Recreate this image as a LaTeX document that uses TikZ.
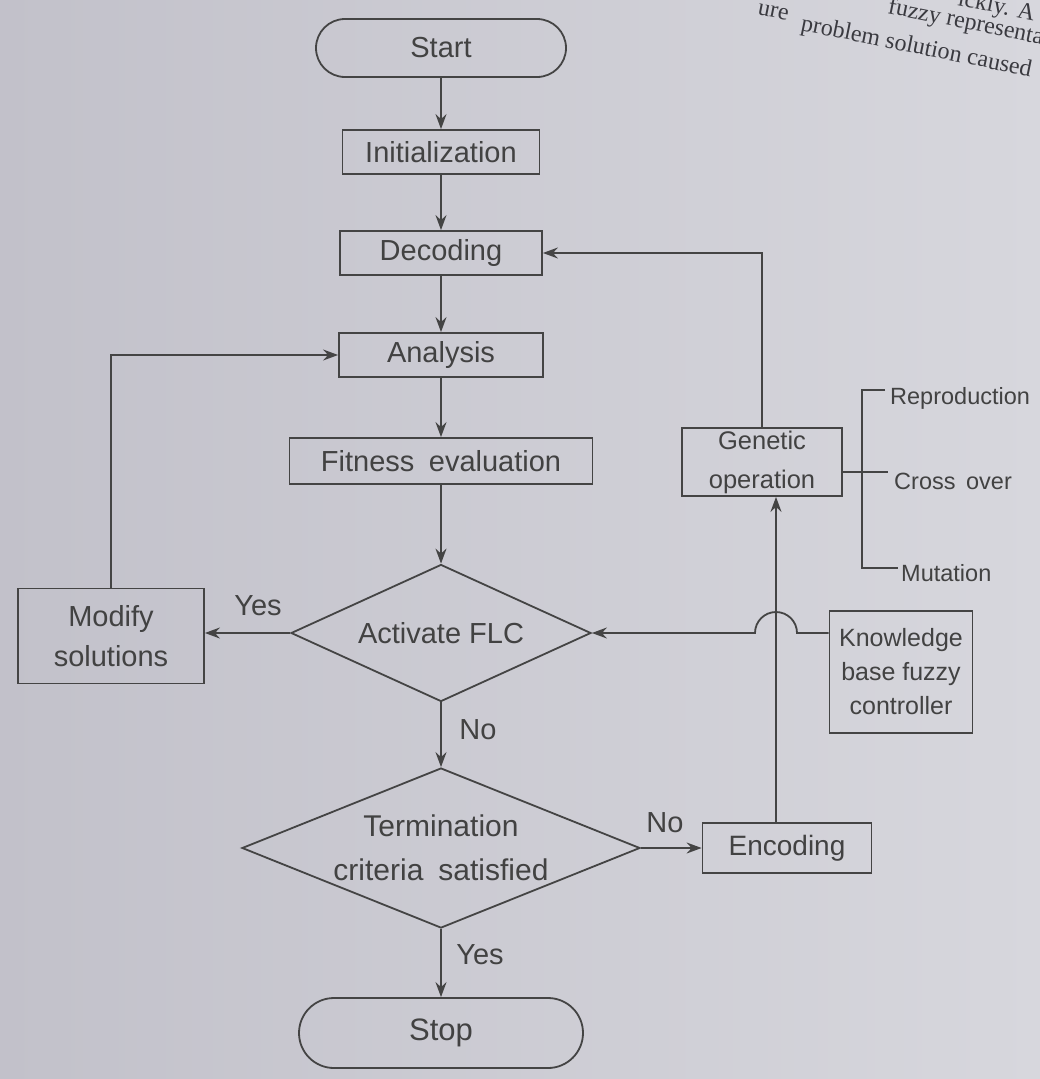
\documentclass[tikz,border=0pt]{standalone}
\usepackage{fontspec}
\setmainfont{Liberation Sans}
\newfontfamily\bookserif{Liberation Serif}
\usetikzlibrary{shapes.geometric,shapes.misc,arrows.meta}
\definecolor{ink}{HTML}{444444}
\definecolor{txt}{HTML}{424242}
\definecolor{pagetxt}{HTML}{3A3A40}
\definecolor{paperL}{HTML}{C2C1CA}
\definecolor{paperR}{HTML}{D7D7DD}
\newcommand\fcmain{\fontsize{29pt}{40pt}\selectfont}
\newcommand\fcside{\fontsize{25.5pt}{39pt}\selectfont}
\newcommand\fckb{\fontsize{25pt}{34pt}\selectfont}
\newcommand\fcbr{\fontsize{23.5pt}{28pt}\selectfont}
\begin{document}
\begin{tikzpicture}[x=1pt,y=-1pt,
  box/.style={draw=ink, line width=1.8pt, rectangle, inner sep=0pt, text=txt, font=\fcmain},
  termbox/.style={draw=ink, line width=1.8pt, rounded rectangle, inner sep=0pt, text=txt, font=\fcmain},
  dia/.style={draw=ink, line width=1.8pt, diamond, inner sep=0pt},
  txtn/.style={text=txt, font=\fcmain, inner sep=0pt, align=center},
  lbl/.style={text=txt, font=\fcmain, inner sep=0pt},
  brl/.style={text=txt, font=\fcbr, inner sep=0pt, anchor=west},
  ln/.style={draw=ink, line width=1.8pt},
  arr/.style={ln, -{Stealth[length=15pt,width=11pt,inset=5pt]}},
  pg/.style={text=pagetxt, font=\bookserif\fontsize{24pt}{28pt}\selectfont, inner sep=0pt, anchor=base west, rotate=-11.5}
]
% paper
\shade[left color=paperL, right color=paperR] (0,0) rectangle (1040,1079);
\useasboundingbox (0,0) rectangle (1040,1079);

% running text of the page, cut by the page edge
\begin{scope}
  \clip (0,0) rectangle (1040,1079);
  \node[pg] (pl1) at (957,5) {ickly. A};
  \node[pg] (pl2) at (887,13) {fuzzy representa};
  \node[pg] (pl3a) at (757,14) {ure};
  \node[pg] (pl3b) at (800,30) {problem solution caused};
\end{scope}

% main column
\node[termbox, minimum width=250pt, minimum height=58pt] (start) at (441,48) {Start};
\node[box, minimum width=197pt, minimum height=44pt] (init) at (441,152) {Initialization};
\node[box, minimum width=202pt, minimum height=44pt] (dec) at (441,253) {Decoding};
\node[box, minimum width=204pt, minimum height=44pt] (ana) at (441,355) {Analysis};
\node[box, minimum width=303pt, minimum height=46pt] (fit) at (441,461) {Fitness\hspace{0.5em}evaluation};
\node[dia, minimum width=300pt, minimum height=137pt] (act) at (441,633) {};
\node[txtn] (actT) at (act) {Activate FLC};
\node[dia, minimum width=398pt, minimum height=160pt] (term) at (441,848) {};
\node[txtn, font=\fontsize{30pt}{44pt}\selectfont] (termT) at (term) {Termination\\criteria\hspace{0.5em}satisfied};
\node[termbox, minimum width=284pt, minimum height=70pt, font=\fontsize{31pt}{36pt}\selectfont] (stop) at (441,1033) {Stop};

% side boxes
\node[box, minimum width=186pt, minimum height=95pt, align=center] (mod) at (111,636) {Modify\\solutions};
\node[box, font=\fcside, minimum width=160pt, minimum height=68pt, align=center] (gen) at (762,462) {Genetic\\operation};
\node[box, font=\fontsize{28pt}{34pt}\selectfont, minimum width=169pt, minimum height=50pt] (enc) at (787,848) {Encoding};
\node[box, font=\fckb, minimum width=143pt, minimum height=122pt, align=center] (kb) at (901,672) {Knowledge\\base fuzzy\\controller};

% branch labels
\node[lbl] (yesL) at (258,606) {Yes};
\node[lbl] (noD) at (478,730) {No};
\node[lbl] (noR) at (665,823) {No};
\node[lbl] (yesD) at (480,955) {Yes};

% main flow
\draw[arr] (start.south) -- (init.north);
\draw[arr] (init.south) -- (dec.north);
\draw[arr] (dec.south) -- (ana.north);
\draw[arr] (ana.south) -- (fit.north);
\draw[arr] (fit.south) -- (act.north);
\draw[arr] (act.south) -- (term.north);
\draw[arr] (term.south) -- (stop.north);

% loops
\draw[arr] (act.west) -- (act.west -| mod.east);
\draw[arr] (mod.north) |- (ana.west);
\draw[arr] (term.east) -- (enc.west);
\coordinate (vx) at (776,0);
\draw[arr] (enc.north -| vx) -- (gen.south -| vx);
\draw[arr] (gen.north) |- (dec.east);

% controller feed, hopping over the encoding line
\coordinate (hopR) at (797,633);
\draw[arr] (kb.west |- act.east) -- (hopR) arc[start angle=0, end angle=180, radius=21pt] -- (act.east);

% genetic operators
\coordinate (brT) at (862,390);
\coordinate (brB) at (862,568);
\coordinate (tickT) at (885,390);
\coordinate (tickB) at (898,568);
\coordinate (crossE) at (888,472);
\draw[ln] (tickT) -- (brT) -- (brB) -- (tickB);
\draw[ln] (gen.east |- crossE) -- (crossE);
\node[brl] (rep) at (890,398) {Reproduction};
\node[brl] (cro) at (894,481) {Cross\hspace{0.45em}over};
\node[brl] (mut) at (901,573) {Mutation};
\end{tikzpicture}
\end{document}
